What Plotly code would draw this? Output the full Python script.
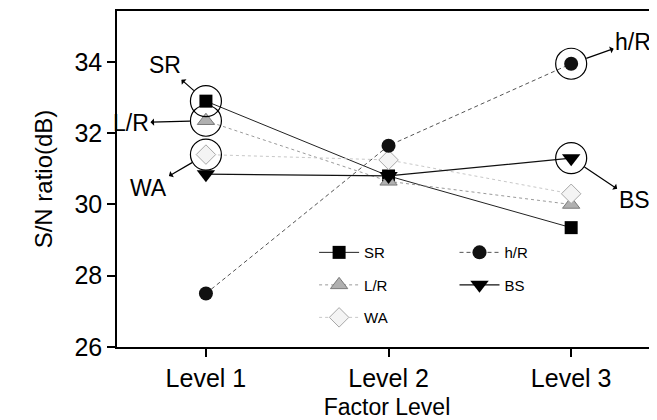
import plotly.graph_objects as go

levels = ["Level 1", "Level 2", "Level 3"]
sr = [32.9, 30.8, 29.35]
lr = [32.35, 30.65, 30.0]
wa = [31.4, 31.25, 30.3]
hr = [27.5, 31.65, 33.95]
bs = [30.85, 30.8, 31.3]

series_names = ["SR", "L/R", "WA", "h/R", "BS"]
# which point of which series is circled (series name, level index)
highlighted = [("SR", 0), ("L/R", 0), ("WA", 0), ("h/R", 2), ("BS", 2)]

FONT = "Liberation Sans, Arial, sans-serif"
data = {"SR": sr, "L/R": lr, "WA": wa, "h/R": hr, "BS": bs}

styles = {
    "SR": dict(line=dict(color="#222222", width=1), marker=dict(symbol="square", size=13, color="#000000")),
    "L/R": dict(line=dict(color="#9a9a9a", width=1, dash="dot"),
                marker=dict(symbol="triangle-up", size=15, color="#b0b0b0", line=dict(color="#7a7a7a", width=1))),
    "WA": dict(line=dict(color="#c8c8c8", width=1, dash="dot"),
               marker=dict(symbol="diamond", size=15, color="#f4f4f4", line=dict(color="#a8a8a8", width=1))),
    "h/R": dict(line=dict(color="#555555", width=1, dash="4px,3px"),
                marker=dict(symbol="circle", size=14, color="#111111")),
    "BS": dict(line=dict(color="#111111", width=1.2), marker=dict(symbol="triangle-down", size=16, color="#000000")),
}
legend_of = {"SR": "legend", "L/R": "legend", "WA": "legend", "h/R": "legend2", "BS": "legend2"}

fig = go.Figure()
for name in series_names:
    st = styles[name]
    fig.add_trace(go.Scatter(
        x=levels, y=data[name], name=name, mode="lines+markers",
        line=st["line"], marker=st["marker"],
        legend=legend_of[name], legendgroup=name,
    ))

# highlight circles
fig.add_trace(go.Scatter(
    x=[levels[i] for _, i in highlighted],
    y=[data[n][i] for n, i in highlighted],
    mode="markers", showlegend=False, hoverinfo="skip",
    marker=dict(symbol="circle-open", size=31, color="#000000", line=dict(width=1.2)),
))

label_offsets = {"SR": (-41, -36), "L/R": (-75, 2), "WA": (-57, 33), "h/R": (62, -22), "BS": (63, 42)}
for n, i in highlighted:
    ax, ay = label_offsets[n]
    fig.add_annotation(
        x=levels[i], y=data[n][i], text=n, showarrow=True,
        ax=ax, ay=ay, arrowside="start", arrowhead=2, arrowsize=1, arrowwidth=1.2,
        arrowcolor="#000000", standoff=16,
        font=dict(family=FONT, size=23, color="#000000"),
    )

fig.update_layout(
    width=649, height=412,
    margin=dict(l=109, r=0, t=3, b=73),
    paper_bgcolor="white", plot_bgcolor="white",
    font=dict(family=FONT, color="#000000"),
    legend=dict(x=0.365, y=0.33, xanchor="left", yanchor="top", bgcolor="rgba(0,0,0,0)",
                font=dict(family=FONT, size=15), tracegroupgap=10, itemwidth=40),
    legend2=dict(x=0.625, y=0.33, xanchor="left", yanchor="top", bgcolor="rgba(0,0,0,0)",
                 font=dict(family=FONT, size=15), tracegroupgap=10, itemwidth=40),
    xaxis=dict(
        range=[-0.487, 2.47], showgrid=False, zeroline=False,
        showline=True, linecolor="#000000", linewidth=1.5, mirror=True,
        ticks="outside", ticklen=8, tickwidth=1.5, tickcolor="#000000",
        tickfont=dict(family=FONT, size=25),
        title=dict(text="Factor Level", font=dict(family=FONT, size=23), standoff=8),
    ),
    yaxis=dict(
        range=[26, 35.43], tickvals=[26, 28, 30, 32, 34], showgrid=False, zeroline=False,
        showline=True, linecolor="#000000", linewidth=1.5,
        ticks="outside", ticklen=8, tickwidth=1.5, tickcolor="#000000",
        tickfont=dict(family=FONT, size=25),
        title=dict(text="S/N ratio(dB)", font=dict(family=FONT, size=24), standoff=15),
    ),
)

fig.write_html("out.html")
